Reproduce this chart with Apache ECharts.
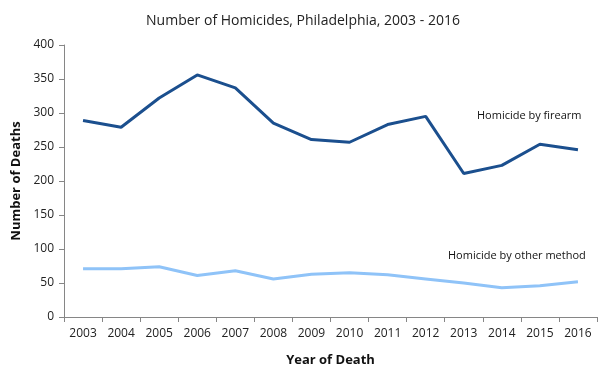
<!DOCTYPE html>
<html><head><meta charset="utf-8">
<script src="https://cdn.jsdelivr.net/npm/echarts@6/dist/echarts.min.js"></script>
<style>html,body{margin:0;padding:0;background:#fff}#c{width:606px;height:378px}</style>
</head><body><div id="c"></div>
<script>
const years = ['2003','2004','2005','2006','2007','2008','2009','2010','2011','2012','2013','2014','2015','2016'];
const firearm = [289, 279, 322, 356, 337, 285, 261, 257, 283, 295, 211, 223, 254, 246];
const otherMethod = [71, 71, 74, 61, 68, 56, 63, 65, 62, 56, 50, 43, 46, 52];
const seriesNames = ['Homicide by firearm', 'Homicide by other method'];
const FONT = '"Open Sans", "Noto Sans", sans-serif';
const chart = echarts.init(document.getElementById('c'));
const axisGray = '#868686';
chart.setOption({
  animation: false,
  title: { text: 'Number of Homicides, Philadelphia, 2003 - 2016', left: 'center', top: 9,
    textStyle: { fontFamily: FONT, fontSize: 14, fontWeight: 'normal', color: '#222' } },
  grid: { left: 64, right: 9, top: 45, bottom: 61 },
  xAxis: { type: 'category', data: years, boundaryGap: true,
    name: 'Year of Death', nameLocation: 'middle', nameGap: 37,
    nameTextStyle: { fontFamily: FONT, fontSize: 13, fontWeight: 'bold', color: '#111' },
    axisLine: { lineStyle: { color: axisGray } },
    axisTick: { show: true, length: 5, lineStyle: { color: axisGray } },
    axisLabel: { fontFamily: FONT, fontSize: 12, color: '#222', margin: 11 } },
  yAxis: { type: 'value', min: 0, max: 400, interval: 50,
    name: 'Number of Deaths', nameLocation: 'middle', nameGap: 38, nameRotate: 90,
    nameTextStyle: { fontFamily: FONT, fontSize: 13, fontWeight: 'bold', color: '#111' },
    axisLine: { show: true, lineStyle: { color: axisGray } },
    axisTick: { show: true, length: 5, lineStyle: { color: axisGray } },
    splitLine: { show: false },
    axisLabel: { fontFamily: FONT, fontSize: 12, color: '#222', margin: 10 } },
  series: [
    { name: seriesNames[0], type: 'line', data: firearm, symbol: 'none',
      lineStyle: { color: '#1b4f8e', width: 3 } },
    { name: seriesNames[1], type: 'line', data: otherMethod, symbol: 'none',
      lineStyle: { color: '#8fc3f8', width: 3 } }
  ],
  graphic: [
    { type: 'text', left: 477, top: 110, style: { text: seriesNames[0], font: '11px ' + FONT, fill: '#111' } },
    { type: 'text', left: 448, top: 250, style: { text: seriesNames[1], font: '11px ' + FONT, fill: '#111' } }
  ]
});
</script></body></html>
